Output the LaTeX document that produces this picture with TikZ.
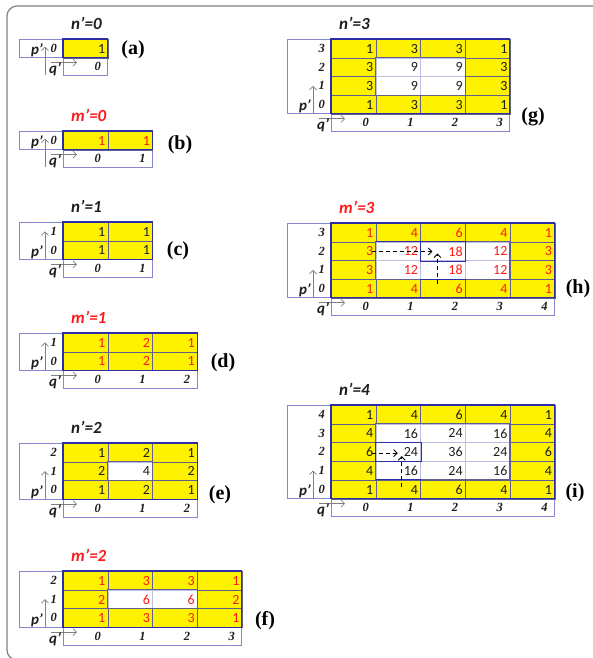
\documentclass[tikz,border=0pt]{standalone}
\usepackage{fontspec}
\setmainfont{Liberation Serif}
\setsansfont{Carlito}
\usetikzlibrary{arrows.meta}
\definecolor{gridc}{RGB}{96,96,140}
\definecolor{innerc}{RGB}{190,190,228}
\definecolor{edgec}{RGB}{45,45,165}
\definecolor{sidec}{RGB}{135,135,205}
\definecolor{ntext}{RGB}{30,30,30}
\definecolor{mred}{RGB}{255,25,25}
% one table: #1 name, (#2,#3) top left value cell, #4 rows, #5 columns, #6 values, #7 colour, #8 heading
\newcommand{\coeffgrid}[8]{%
  \node[heading, text=#7] (#1-head) at (#2+8,#3-16) {#8};
  \draw[sidebox] (#2-44,#3) rectangle (#2,#3+#4*18.7);
  \draw[sidebox] (#2,#3+#4*18.7) rectangle (#2+#5*44.7,#3+#4*18.7+18);
  \foreach \vals [count=\rr from 0] in {#6} {
    \pgfmathtruncatemacro\pp{#4-1-\rr}
    \node[rowlab] (#1-p\pp) at (#2-6,#3+\rr*18.7+9.4) {\pp};
    \foreach \val [count=\cc from 0] in \vals {
      \pgfmathtruncatemacro\midcell{and(and(\rr>0,\rr<#4-1),and(\cc>0,\cc<#5-1))}
      \ifnum\midcell=1 \def\cfill{white}\def\cdraw{innerc}\else\def\cfill{yellow}\def\cdraw{gridc}\fi
      \node[cell, fill=\cfill, draw=\cdraw, text=#7] (#1-\pp-\cc) at (#2+\cc*44.7,#3+\rr*18.7) {\val};
      \ifnum\rr=0 \node[collab] (#1-q\cc) at (#2+\cc*44.7+38,#3+#4*18.7+9) {\cc};\fi
    }
  }
  \ifnum#4>2 \draw[gridc, line width=0.8pt] (#2+44.7,#3+18.7) rectangle (#2+#5*44.7-44.7,#3+#4*18.7-18.7);\fi
  \draw[rim] (#2,#3) rectangle (#2+#5*44.7,#3+#4*18.7);
  % p' and q' directions
  \draw[axarrow, ->] (#2-18,{#3+#4*18.7+(#4==1)*17}) -- ++(0,-28);
  \node[axlab, anchor=base east] (#1-plab) at (#2-20,#3+#4*18.7-3) {p'};
  \draw[axarrow, ->] (#2-12,#3+#4*18.7+5) -- ++(26,0);
  \node[axlab, anchor=base] (#1-qlab) at (#2-8,#3+#4*18.7+16) {q'};
}
\begin{document}
\begin{tikzpicture}[x=1pt, y=-1pt, >={Straight Barb[length=3.5pt,width=7pt]},
  cell/.style={rectangle, anchor=north west, minimum width=44.7pt, minimum height=18.7pt,
    text width=39pt, align=right, inner sep=2pt, line width=0.8pt, font=\sffamily\fontsize{14}{14}\selectfont},
  heading/.style={anchor=west, inner sep=0pt, font=\sffamily\bfseries\itshape\fontsize{17}{17}\selectfont},
  rowlab/.style={anchor=east, inner sep=0pt, text=ntext, font=\bfseries\itshape\fontsize{12.5}{12.5}\selectfont},
  collab/.style={rowlab},
  axlab/.style={inner sep=0pt, text=ntext, font=\sffamily\bfseries\itshape\fontsize{15}{15}\selectfont},
  axarrow/.style={gray, line width=0.7pt},
  sidebox/.style={draw=sidec, line width=0.8pt},
  rim/.style={draw=edgec, line width=1.1pt},
  focus/.style={edgec, line width=1.1pt},
  hint/.style={dash pattern=on 4pt off 3pt, line width=0.9pt, ->},
  panel/.style={font=\bfseries\fontsize{20}{20}\selectfont}]
  \useasboundingbox (0,0) rectangle (593,658);
  % outer frame
  \draw[gray, line width=1.2pt, rounded corners=10pt] (7,6) rectangle (650,660);
  % left column
  \coeffgrid{a}{63}{39}{1}{1}{{1}}{ntext}{n'=0}
  \coeffgrid{b}{63}{131}{1}{2}{{1,1}}{mred}{m'=0}
  \coeffgrid{c}{63}{222}{2}{2}{{1,1},{1,1}}{ntext}{n'=1}
  \coeffgrid{d}{63}{333}{2}{3}{{1,2,1},{1,2,1}}{mred}{m'=1}
  \coeffgrid{e}{63}{443}{3}{3}{{1,2,1},{2,4,2},{1,2,1}}{ntext}{n'=2}
  \coeffgrid{f}{63}{571}{3}{4}{{1,3,3,1},{2,6,6,2},{1,3,3,1}}{mred}{m'=2}
  % right column
  \coeffgrid{g}{331}{39}{4}{4}{{1,3,3,1},{3,9,9,3},{3,9,9,3},{1,3,3,1}}{ntext}{n'=3}
  \coeffgrid{h}{331}{223}{4}{5}{{1,4,6,4,1},{3,12,18,12,3},{3,12,18,12,3},{1,4,6,4,1}}{mred}{m'=3}
  \coeffgrid{i}{331}{405}{5}{5}{{1,4,6,4,1},{4,16,24,16,4},{6,24,36,24,6},{4,16,24,16,4},{1,4,6,4,1}}{ntext}{n'=4}
  % recursion hints
  \draw[focus] (h-2-2.north west) rectangle (h-2-2.south east);
  \draw[focus] (h-2-1.north west) -- (h-2-1.north east);
  \draw[focus] (h-0-2.north west) -- (h-0-2.north east);
  \draw[hint] ([xshift=-4pt]h-2-1.west) -- ([xshift=12pt]h-2-2.west);
  \draw[hint] ([xshift=17pt,yshift=-5pt]h-0-2.north west) -- ([xshift=17pt,yshift=-2pt]h-2-2.west);
  \draw[focus] (i-2-1.north west) rectangle (i-2-1.south east);
  \draw[focus] (i-0-1.north west) -- (i-0-1.north east);
  \draw[hint] ([xshift=-4pt,yshift=-1pt]i-2-1.west) -- ([xshift=22pt,yshift=-1pt]i-2-1.west);
  \draw[hint] ([xshift=26pt,yshift=-7pt]i-0-1.north west) -- ([xshift=26pt,yshift=-4pt]i-2-1.west);
  % panel letters
  \foreach \p/\x/\y in {a/133/50, b/180/145, c/178/251, d/223/363, e/220/495,
    f/265/621, g/533/117, h/578/289, i/575/493}
    \node[panel] (tag-\p) at (\x,\y) {(\p)};
\end{tikzpicture}
\end{document}
